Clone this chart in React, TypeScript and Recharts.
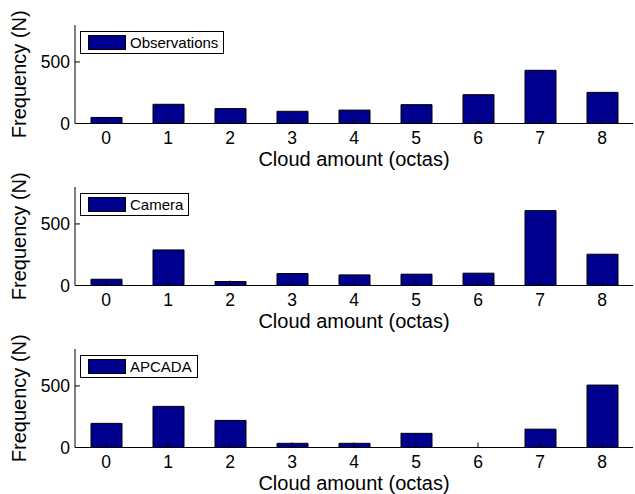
import React from "react";
import { BarChart, Bar, XAxis, YAxis, Legend } from "recharts";

// cloud amount categories (octas)
const octas = ["0", "1", "2", "3", "4", "5", "6", "7", "8"];

// frequencies
const observations = [49, 156, 121, 99, 109, 153, 234, 432, 253];
const camera = [51, 289, 32, 97, 86, 92, 100, 608, 254];
const apcada = [196, 334, 220, 34, 34, 115, 0, 149, 507];

const yTicks = [0, 500];

const FONT = "'Liberation Sans', Arial, Helvetica, sans-serif";
const BAR_COLOR = "#00008F";

const LegendBox = ({ payload }: any) => {
  const item = payload && payload[0];
  return (
    <div
      style={{
        display: "inline-flex",
        alignItems: "center",
        boxSizing: "border-box",
        height: 23,
        padding: "0 5px 0 7px",
        border: "1px solid #000",
        background: "#fff",
        fontFamily: FONT,
        fontSize: 15,
        color: "#000",
        whiteSpace: "nowrap",
      }}
    >
      <span
        style={{
          display: "inline-block",
          boxSizing: "border-box",
          width: 38,
          height: 15,
          marginRight: 4,
          background: BAR_COLOR,
          border: "1px solid #000",
        }}
      />
      {item ? item.value : ""}
    </div>
  );
};

const Panel = ({ name, values, top }: { name: string; values: number[]; top: number }) => {
  const data = octas.map((octa, i) => ({ octa, value: values[i] }));
  const tickStyle = { fontSize: 17.5, fill: "#000", fontFamily: FONT };

  return (
    <div style={{ position: "absolute", left: 0, top }}>
      <BarChart
        width={635}
        height={170}
        data={data}
        margin={{ top: 25, right: 2, left: 0, bottom: 0 }}
        barSize={31}
      >
        <XAxis
          dataKey="octa"
          height={46.5}
          stroke="#000"
          tick={tickStyle}
          tickLine={{ stroke: "#000" }}
          tickSize={-5}
          tickMargin={13}
          interval={0}
          label={{
            value: "Cloud amount (octas)",
            position: "insideBottom",
            offset: 4.5,
            style: { fontSize: 20, fill: "#000", fontFamily: FONT },
          }}
        />
        <XAxis
          xAxisId="top"
          dataKey="octa"
          orientation="top"
          height={0}
          stroke="#000"
          tick={false}
          tickLine={{ stroke: "#000" }}
          tickSize={-5}
          interval={0}
        />
        <YAxis
          width={75}
          domain={[0, 800]}
          ticks={yTicks}
          stroke="#000"
          tick={tickStyle}
          tickLine={{ stroke: "#000" }}
          tickSize={-5}
          tickMargin={10}
          label={{
            value: "Frequency (N)",
            angle: -90,
            position: "insideLeft",
            offset: 19,
            style: { fontSize: 20, fill: "#000", fontFamily: FONT, textAnchor: "middle" },
          }}
        />
        <YAxis
          yAxisId="right"
          orientation="right"
          width={0}
          domain={[0, 800]}
          ticks={yTicks}
          stroke="#000"
          tick={false}
          tickLine={{ stroke: "#000" }}
          tickSize={-5}
        />
        <Legend
          content={<LegendBox />}
          layout="horizontal"
          verticalAlign="middle"
          align="center"
          wrapperStyle={{ left: 80, top: 31, width: "auto" }}
        />
        <Bar
          dataKey="value"
          name={name}
          fill={BAR_COLOR}
          stroke="#000"
          strokeWidth={1}
          isAnimationActive={false}
        />
      </BarChart>
    </div>
  );
};

export default function App() {
  return (
    <div
      style={{
        position: "absolute",
        left: 0,
        top: 0,
        width: 635,
        height: 494,
        overflow: "hidden",
        background: "#fff",
      }}
    >
      <Panel name="Observations" values={observations} top={0} />
      <Panel name="Camera" values={camera} top={162} />
      <Panel name="APCADA" values={apcada} top={324} />
    </div>
  );
}
